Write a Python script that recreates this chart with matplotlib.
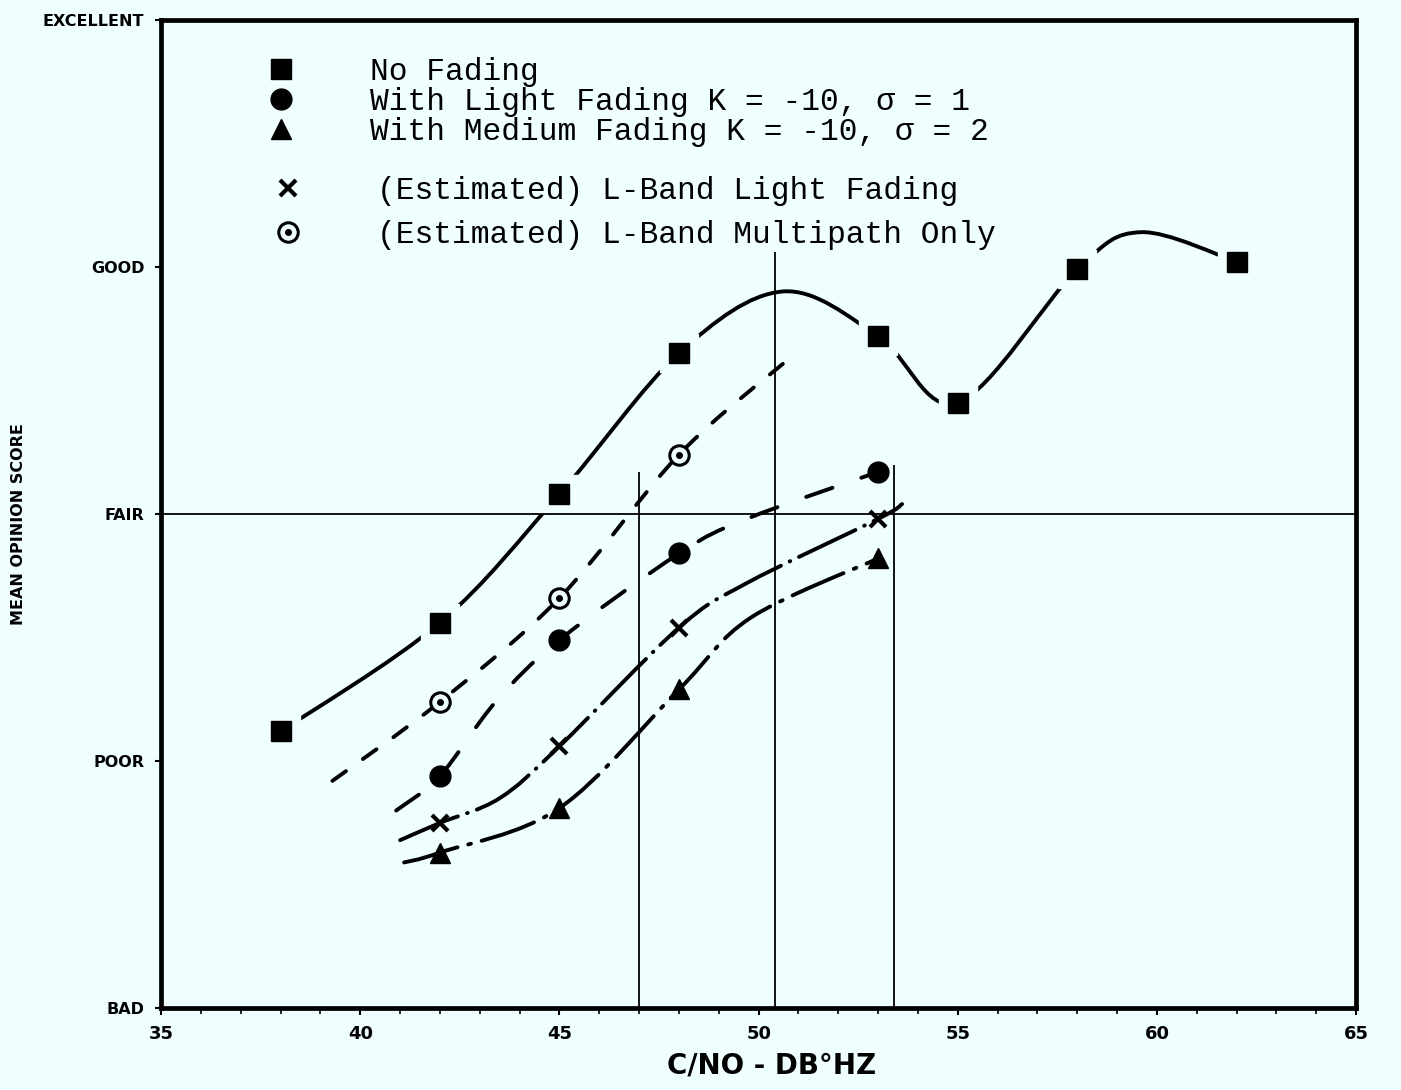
import numpy as np
import matplotlib.pyplot as plt
from matplotlib.path import Path
from matplotlib.patches import PathPatch
from matplotlib.lines import Line2D
from matplotlib.ticker import MultipleLocator

plt.rcParams['lines.scale_dashes'] = False

# y scale levels (1 = BAD ... 5 = EXCELLENT)
levels = ['BAD', 'POOR', 'FAIR', 'GOOD', 'EXCELLENT']
level_vals = [1, 2, 3, 4, 5]
x_ticks = [35, 40, 45, 50, 55, 60, 65]

# measured points
no_fading_x = [38, 42, 45, 48, 53, 55, 58, 62]
no_fading_y = [2.12, 2.56, 3.08, 3.65, 3.72, 3.45, 3.99, 4.02]
light_x = [42, 45, 48, 53]
light_y = [1.94, 2.49, 2.84, 3.17]
medium_x = [42, 45, 48, 53]
medium_y = [1.63, 1.81, 2.29, 2.82]
lband_light_x = [42, 45, 48, 53]
lband_light_y = [1.75, 2.06, 2.54, 2.98]
multipath_x = [42, 45, 48]
multipath_y = [2.24, 2.66, 3.24]

# hand drawn fitted curves
no_fading_curve_x = [38, 42, 45, 48, 50.6, 53, 55, 58, 59.6, 62]
no_fading_curve_y = [2.12, 2.56, 3.08, 3.65, 3.90, 3.72, 3.45, 3.99, 4.14, 4.02]
light_curve_x = [40.9, 42, 43.4, 45, 48, 49.7, 53]
light_curve_y = [1.80, 1.94, 2.24, 2.49, 2.84, 2.98, 3.17]
medium_curve_x = [41.1, 42, 45, 48, 49.8, 53]
medium_curve_y = [1.59, 1.63, 1.81, 2.29, 2.58, 2.82]
lband_light_curve_x = [41.0, 42, 43.5, 45, 48, 49.7, 53, 53.6]
lband_light_curve_y = [1.68, 1.75, 1.85, 2.06, 2.54, 2.72, 2.98, 3.04]
multipath_curve_x = [39.3, 42, 45, 48, 50.7]
multipath_curve_y = [1.92, 2.24, 2.66, 3.24, 3.62]

# reference lines
fair_level = 3
ref_x = [47.0, 50.4, 53.4]
ref_top = [3.17, 4.06, 3.20]

labels_top = ['No Fading',
              'With Light Fading K = -10, \u03c3 = 1',
              'With Medium Fading K = -10, \u03c3 = 2']
labels_bottom = ['(Estimated) L-Band Light Fading',
                 '(Estimated) L-Band Multipath Only']

BG = '#effefe'


def smooth_path(xs, ys):
    # catmull-rom through the traced points, as cubic bezier pieces
    pts = np.column_stack([xs, ys]).astype(float)
    n = len(pts)
    verts = [pts[0]]
    codes = [Path.MOVETO]
    for i in range(n - 1):
        p0 = pts[max(i - 1, 0)]
        p1 = pts[i]
        p2 = pts[i + 1]
        p3 = pts[min(i + 2, n - 1)]
        verts += [p1 + (p2 - p0) / 6, p2 - (p3 - p1) / 6, p2]
        codes += [Path.CURVE4] * 3
    return Path(verts, codes)


def draw_curve(ax, xs, ys, ls):
    patch = PathPatch(smooth_path(xs, ys), fill=False, lw=2.8, ec='black',
                      linestyle=ls, capstyle='round', zorder=2)
    ax.add_patch(patch)


fig = plt.figure(figsize=(14.01, 10.90), dpi=100, facecolor=BG)
ax = fig.add_axes([0.115, 0.075, 0.853, 0.907])
ax.set_facecolor(BG)

draw_curve(ax, no_fading_curve_x, no_fading_curve_y, '-')
draw_curve(ax, light_curve_x, light_curve_y, (0, (20, 22)))
draw_curve(ax, multipath_curve_x, multipath_curve_y, (0, (12, 15)))
draw_curve(ax, lband_light_curve_x, lband_light_curve_y, (0, (45, 7, 0.5, 7)))
draw_curve(ax, medium_curve_x, medium_curve_y, (0, (40, 8, 2, 8)))

# gaps in the solid curve around the squares
ax.plot(no_fading_x, no_fading_y, 's', ms=27, color=BG, zorder=2.5)

ax.axhline(fair_level, color='black', lw=1.3, zorder=3)
ax.vlines(ref_x, 1, ref_top, color='black', lw=1.3, zorder=3)

ax.plot(no_fading_x, no_fading_y, 's', ms=15, color='black', zorder=5)
ax.plot(light_x, light_y, 'o', ms=15, color='black', zorder=5)
ax.plot(medium_x, medium_y, '^', ms=15, color='black', zorder=5)
ax.plot(lband_light_x, lband_light_y, 'x', ms=11, mew=3, color='black', zorder=5)
ax.plot(multipath_x, multipath_y, 'o', ms=14, mfc=BG, mec='black', mew=2.2, zorder=5)
ax.plot(multipath_x, multipath_y, 'o', ms=4, color='black', zorder=6)

ax.set_xlim(35, 65)
ax.set_ylim(1, 5)
ax.set_xticks(x_ticks)
ax.set_xticklabels([str(v) for v in x_ticks], fontsize=13, fontweight='bold')
ax.xaxis.set_minor_locator(MultipleLocator(1))
ax.set_yticks(level_vals)
ax.set_yticklabels(levels, fontsize=11.5, fontweight='bold')
ax.tick_params(axis='x', which='major', length=5, width=1.5, pad=7)
ax.tick_params(axis='x', which='minor', length=4, width=1.2)
ax.tick_params(axis='y', length=4, width=1.5, pad=8)
for s in ax.spines.values():
    s.set_linewidth(3.4)

ax.set_xlabel('C/NO - DB\u00b0HZ', fontsize=20, fontweight='bold')
ax.xaxis.set_label_coords(0.511, -0.044)
ax.set_ylabel('MEAN OPINION SCORE', fontsize=11.5, fontweight='bold')
ax.yaxis.set_label_coords(-0.113, 0.49)

mk = dict(color='black', linestyle='none')
h_sq = Line2D([], [], marker='s', ms=15, **mk)
h_ci = Line2D([], [], marker='o', ms=15, **mk)
h_tr = Line2D([], [], marker='^', ms=15, **mk)
h_x = Line2D([], [], marker='x', ms=11, mew=3, **mk)
h_mo = Line2D([], [], marker='o', ms=14, mfc=BG, mec='black', mew=2.2, linestyle='none')
h_md = Line2D([], [], marker='o', ms=4, **mk)

font = {'family': 'Liberation Mono', 'size': 22.5}
leg1 = ax.legend([h_sq, h_ci, h_tr], labels_top, loc='upper left',
                 bbox_to_anchor=(0.087, 0.962), frameon=False, prop=font,
                 borderpad=0, borderaxespad=0, handlelength=1.0,
                 handletextpad=2.35, labelspacing=0.0)
ax.add_artist(leg1)
ax.legend([h_x, (h_mo, h_md)], labels_bottom, loc='upper left',
          bbox_to_anchor=(0.093, 0.842), frameon=False, prop=font,
          borderpad=0, borderaxespad=0, handlelength=1.0,
          handletextpad=2.35, labelspacing=0.44)

fig.savefig('out.png', dpi=100, facecolor=BG)
